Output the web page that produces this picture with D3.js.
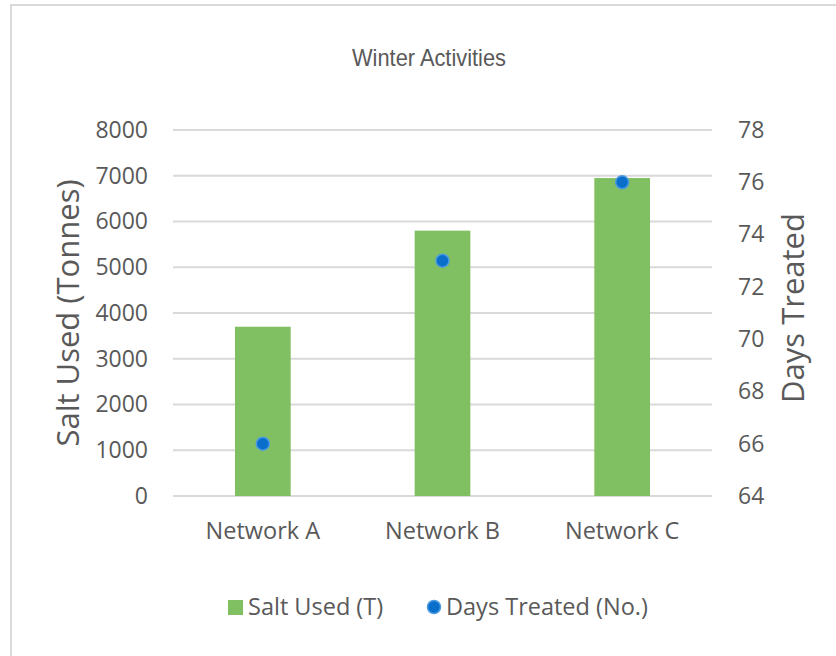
<!DOCTYPE html>
<html>
<head>
<meta charset="utf-8">
<script src="https://cdn.jsdelivr.net/npm/d3@7"></script>
<style>
  body { margin: 0; background: #fff; }
  text { font-family: "Open Sans", sans-serif; fill: #595959; }
</style>
</head>
<body>
<svg id="chart" width="836" height="656"></svg>
<script>
// data
var networks = ["Network A", "Network B", "Network C"];
var saltUsed = [3700, 5800, 6950];
var daysTreated = [66, 73, 76];
var saltTicks = [0, 1000, 2000, 3000, 4000, 5000, 6000, 7000, 8000];
var dayTicks = [64, 66, 68, 70, 72, 74, 76, 78];

var svg = d3.select("#chart");
var margin = { top: 130, right: 124, bottom: 160, left: 173 },
  width = 836 - margin.left - margin.right,
  height = 656 - margin.top - margin.bottom;

// chart frame (only the top and left edges are in view)
svg.append("rect")
  .attr("x", 11).attr("y", 5)
  .attr("width", 900).attr("height", 700)
  .attr("fill", "none")
  .attr("stroke", "#d9d9d9")
  .attr("stroke-width", 2);

svg.append("text")
  .attr("x", 429).attr("y", 66)
  .attr("text-anchor", "middle")
  .attr("textLength", 154)
  .attr("lengthAdjust", "spacingAndGlyphs")
  .style("font-family", "'Liberation Sans', Arial, sans-serif")
  .style("font-size", "24px")
  .text("Winter Activities");

var g = svg.append("g")
  .attr("transform", "translate(" + margin.left + "," + margin.top + ")");

var x = d3.scaleBand().domain(networks).range([0, width])
  .paddingInner(0.69).paddingOuter(0.345);
var y = d3.scaleLinear().domain([0, 8000]).range([height, 0]);
var y2 = d3.scaleLinear().domain([64, 78]).range([height, 0]);

// gridlines
g.append("g")
  .selectAll("line")
  .data(saltTicks)
  .enter()
  .append("line")
  .attr("x1", 0)
  .attr("x2", width)
  .attr("y1", function (d) { return y(d); })
  .attr("y2", function (d) { return y(d); })
  .attr("stroke", "#d9d9d9")
  .attr("stroke-width", 2);

// left axis
var left = g.append("g")
  .attr("transform", "translate(-10,0)")
  .call(d3.axisLeft(y).tickValues(saltTicks).tickFormat(d3.format("d")).tickSize(0).tickPadding(15));
left.select(".domain").remove();
left.selectAll("text").style("font-size", "23px").attr("fill", "#595959");

// right axis
var right = g.append("g")
  .attr("transform", "translate(" + (width + 12) + ",0)")
  .call(d3.axisRight(y2).tickValues(dayTicks).tickSize(0).tickPadding(14));
right.select(".domain").remove();
right.selectAll("text").style("font-size", "23px").attr("fill", "#595959");

// category axis
var bottom = g.append("g")
  .attr("transform", "translate(0," + height + ")")
  .call(d3.axisBottom(x).tickSize(0).tickPadding(26));
bottom.select(".domain").remove();
bottom.selectAll("text").style("font-size", "23.5px").attr("fill", "#595959");

// bars
g.append("g")
  .selectAll("rect")
  .data(networks)
  .enter()
  .append("rect")
  .attr("x", function (d) { return x(d); })
  .attr("width", x.bandwidth())
  .attr("y", function (d, i) { return y(saltUsed[i]); })
  .attr("height", function (d, i) { return height - y(saltUsed[i]); })
  .attr("fill", "#80bf62");

// dots
g.append("g")
  .selectAll("circle")
  .data(networks)
  .enter()
  .append("circle")
  .attr("cx", function (d) { return x(d) + x.bandwidth() / 2; })
  .attr("cy", function (d, i) { return y2(daysTreated[i]); })
  .attr("r", 6.5)
  .attr("fill", "#0a6ecb")
  .attr("stroke", "#4b9be0")
  .attr("stroke-width", 1.5);

// axis titles
svg.append("text")
  .attr("transform", "translate(79," + (margin.top + height / 2) + ") rotate(-90)")
  .attr("text-anchor", "middle")
  .style("font-size", "31px")
  .text("Salt Used (Tonnes)");

svg.append("text")
  .attr("transform", "translate(804," + (margin.top + height / 2 - 5) + ") rotate(-90)")
  .attr("text-anchor", "middle")
  .style("font-size", "31px")
  .text("Days Treated");

// legend
var legend = svg.append("g").attr("transform", "translate(0,607)");
legend.append("rect")
  .attr("x", 228).attr("y", -7)
  .attr("width", 15).attr("height", 15)
  .attr("fill", "#80bf62");
legend.append("text")
  .attr("x", 248).attr("y", 8)
  .style("font-size", "23.5px")
  .text("Salt Used (T)");
legend.append("circle")
  .attr("cx", 434).attr("cy", 0).attr("r", 6.5)
  .attr("fill", "#0a6ecb")
  .attr("stroke", "#4b9be0")
  .attr("stroke-width", 1.5);
legend.append("text")
  .attr("x", 446).attr("y", 8)
  .style("font-size", "23.5px")
  .text("Days Treated (No.)");
</script>
</body>
</html>
